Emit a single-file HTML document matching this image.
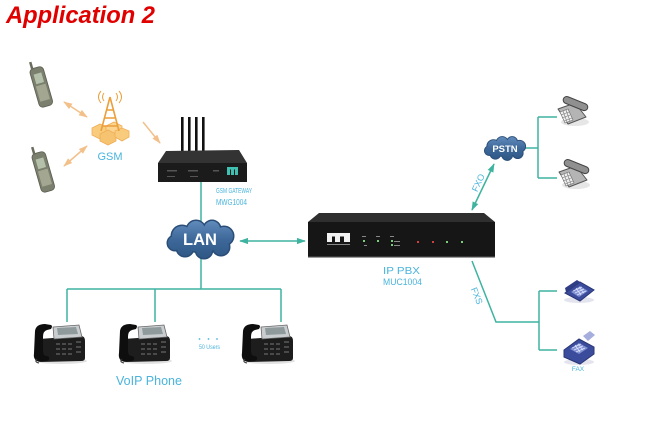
<!DOCTYPE html>
<html><head><meta charset="utf-8"><style>
html,body{margin:0;padding:0;background:#fff;}
svg{display:block}
</style></head><body>
<svg width="669" height="433" viewBox="0 0 669 433" xmlns="http://www.w3.org/2000/svg" font-family="Liberation Sans, sans-serif">
<defs>
<marker id="ta" viewBox="0 0 10 10" refX="9" refY="5" markerWidth="6" markerHeight="6" orient="auto-start-reverse"><path d="M0,1.5 L10,5 L0,8.5 z" fill="#3db3a0"/></marker>
<marker id="oa" viewBox="0 0 10 10" refX="9" refY="5" markerWidth="6" markerHeight="6" orient="auto-start-reverse"><path d="M0,1.5 L10,5 L0,8.5 z" fill="#f3c08a"/></marker>
<linearGradient id="cg" gradientUnits="userSpaceOnUse" x1="0" y1="-18" x2="0" y2="18"><stop offset="0" stop-color="#5f8aba"/><stop offset="0.5" stop-color="#3d6899"/><stop offset="1" stop-color="#2f5886"/></linearGradient>
<g id="cshape">
<ellipse cx="0" cy="0" rx="28" ry="12"/>
<circle cx="-18.5" cy="-3.5" r="10"/>
<circle cx="-4.5" cy="-9.5" r="9"/>
<circle cx="11.5" cy="-10.5" r="8"/>
<circle cx="23.5" cy="-3.5" r="9"/>
<circle cx="20.5" cy="7.5" r="8"/>
<circle cx="3.5" cy="10.5" r="8"/>
<circle cx="-15.5" cy="8.5" r="8"/>
<circle cx="-25.5" cy="3.5" r="7"/>
</g>
<g id="cloud">
<use href="#cshape" fill="#2a4d77" stroke="#2a4d77" stroke-width="3"/>
<use href="#cshape" fill="url(#cg)"/>
</g>
<g id="voip">
<ellipse cx="28" cy="38" rx="26" ry="3" fill="#e2e2e2"/>
<path d="M6,16 L48,13 Q52,13 52,18 L52,35 Q52,38 48,38 L8,39 Q3,39 3,35 Z" fill="#1d1d1d"/>
<path d="M20,4 L46,2 L49,14 L21,16 Z" fill="#c9cdd0" stroke="#666" stroke-width="0.8"/>
<polygon points="24,5 43,4 45,11 25,12" fill="#8f9a9c"/>
<path d="M2,8 Q3,1 12,1 L18,2 Q20,3 18,6 L14,7 Q10,8 10,14 L10,28 Q10,33 14,33 L16,34 Q17,38 12,38 L4,38 Q0,36 1,30 Z" fill="#0e0e0e"/>
<g fill="#4a4a4a">
<rect x="23" y="20" width="4" height="2"/><rect x="29" y="20" width="4" height="2"/><rect x="35" y="20" width="4" height="2"/>
<rect x="23" y="25" width="4" height="2"/><rect x="29" y="25" width="4" height="2"/><rect x="35" y="25" width="4" height="2"/>
<rect x="23" y="30" width="4" height="2"/><rect x="29" y="30" width="4" height="2"/><rect x="35" y="30" width="4" height="2"/>
<rect x="43" y="18" width="5" height="2"/><rect x="43" y="23" width="5" height="2"/><rect x="43" y="28" width="5" height="2"/>
</g>
<path d="M4,36 q-3,3 2,4" stroke="#333" fill="none" stroke-width="1"/>
</g>
<g id="dphone">
<ellipse cx="4" cy="10" rx="14" ry="4" fill="#e6e6e6"/>
<path d="M-13,-3 L4,-9 L15,5 L-3,12 Z" fill="#b4b4b4" stroke="#555" stroke-width="1" stroke-linejoin="round"/>
<path d="M-11,0 L-3,-3 L2,8 L-6,11 Z" fill="#eeeeee" stroke="#666" stroke-width="0.6"/>
<path d="M-10,3 L-2,0 M-9,6 L-1,3 M-7,9 L1,6 M-8,-1 L-4,10 M-5,-2 L-1,9" stroke="#777" stroke-width="0.6"/>
<rect x="-12" y="-13" width="26" height="7" rx="3.5" transform="rotate(22)" fill="#909090" stroke="#444" stroke-width="1"/>
</g>
</defs>

<!-- Title -->
<text x="6" y="23" font-size="24" font-weight="bold" font-style="italic" fill="#e00000" textLength="149" lengthAdjust="spacingAndGlyphs">Application 2</text>

<!-- mobile phones -->
<g transform="translate(41,86) rotate(-16)">
<rect x="-7" y="-19" width="14" height="40" rx="4" fill="#7b7f6d" stroke="#5a5d50" stroke-width="0.8"/>
<rect x="-4" y="-13" width="8" height="10" fill="#b4c0aa"/>
<rect x="-5" y="-1" width="10" height="16" fill="#a3a690"/>
<rect x="-5" y="-26" width="2.5" height="8" fill="#6a6d5e"/>
</g>
<g transform="translate(43,171) rotate(-16)">
<rect x="-7" y="-19" width="14" height="40" rx="4" fill="#7b7f6d" stroke="#5a5d50" stroke-width="0.8"/>
<rect x="-4" y="-13" width="8" height="10" fill="#b4c0aa"/>
<rect x="-5" y="-1" width="10" height="16" fill="#a3a690"/>
<rect x="-5" y="-26" width="2.5" height="8" fill="#6a6d5e"/>
</g>

<!-- orange arrows -->
<g stroke="#f3c08a" stroke-width="1.5" fill="none">
<path d="M64,102 L87,117" marker-start="url(#oa)" marker-end="url(#oa)"/>
<path d="M64,166 L87,146" marker-start="url(#oa)" marker-end="url(#oa)"/>
<path d="M143,122 L160,143" marker-end="url(#oa)"/>
</g>

<!-- tower -->
<g>
<polygon points="92,128 100,124 108,128 108,135 100,139 92,135" fill="#f8cc7c" stroke="#efad55" stroke-width="0.8"/>
<polygon points="106,126 114,122 122,126 122,133 114,137 106,133" fill="#fad490" stroke="#efad55" stroke-width="0.8"/>
<polygon points="100,134 108,130 116,134 116,141 108,145 100,141" fill="#f6c470" stroke="#efad55" stroke-width="0.8"/>
<polygon points="115,131 122,128 129,131 129,137 122,141 115,137" fill="#f8cc7c" stroke="#efad55" stroke-width="0.8"/>
<path d="M110,97 L101,131 M110,97 L119,131 M104,118 L116,118 M106,110 L114,110 M102,126 L118,126" stroke="#eb9f3a" stroke-width="1.6" fill="none"/>
<path d="M104,93 q-3,4 0,8 M101,91 q-5,6 0,12 M116,93 q3,4 0,8 M119,91 q5,6 0,12" stroke="#eb9f3a" stroke-width="1" fill="none"/>
</g>
<text x="110" y="160" font-size="11" fill="#4ab4dc" text-anchor="middle">GSM</text>

<!-- GSM gateway -->
<g fill="#111">
<rect x="181" y="117" width="2.6" height="37"/>
<rect x="188" y="117" width="2.6" height="37"/>
<rect x="195" y="117" width="2.6" height="37"/>
<rect x="202" y="117" width="2.6" height="37"/>
</g>
<polygon points="166,151 239,150 247,163 158,163" fill="#333"/>
<rect x="158" y="163" width="89" height="19" fill="#1b1b1b"/>
<g fill="#555"><rect x="167" y="170" width="10" height="1.5"/><rect x="188" y="170" width="10" height="1.5"/><rect x="213" y="170" width="6" height="1.5"/><rect x="167" y="176" width="8" height="1"/><rect x="190" y="176" width="8" height="1"/></g>
<g fill="#3fc0b0"><rect x="227" y="167" width="11" height="2.5"/><rect x="227" y="167" width="3" height="8"/><rect x="231" y="167" width="3" height="8"/><rect x="235" y="167" width="3" height="8"/></g>
<text x="216" y="193" font-size="7" fill="#4ab4dc" textLength="36" lengthAdjust="spacingAndGlyphs">GSM GATEWAY</text>
<text x="216" y="205" font-size="8" fill="#4ab4dc" textLength="31" lengthAdjust="spacingAndGlyphs">MWG1004</text>

<!-- teal lines -->
<g stroke="#3db3a0" stroke-width="1.5" fill="none">
<path d="M201,182 V222"/>
<path d="M201,257 V289"/>
<path d="M67,289 H281"/>
<path d="M67,289 V322 M155,289 V322 M281,289 V322"/>
<path d="M240,241 H305" marker-start="url(#ta)" marker-end="url(#ta)"/>
<path d="M472,210 L494,164" marker-start="url(#ta)" marker-end="url(#ta)"/>
<path d="M525,148 H538 M538,117 V178 M538,117 H557 M538,178 H557"/>
<path d="M472,261 L496,322 H539 M539,291 V350 M539,291 H557 M539,350 H557"/>
</g>

<!-- LAN cloud -->
<use href="#cloud" transform="translate(200.5,239.5)"/>
<text x="200" y="245" font-size="16.5" font-weight="bold" fill="#fff" text-anchor="middle">LAN</text>

<!-- PSTN cloud -->
<use href="#cloud" transform="translate(505,148.5) scale(0.62)"/>
<text x="505" y="152" font-size="9.5" font-weight="bold" fill="#fff" text-anchor="middle">PSTN</text>

<!-- IP PBX -->
<polygon points="319,213 484,213 495,222 308,222" fill="#2f2f2f"/>
<rect x="308" y="222" width="187" height="35" fill="#161616"/>
<rect x="308" y="256" width="187" height="1.5" fill="#3a3a3a"/>
<g fill="#f2f2f2"><rect x="327" y="233" width="23" height="3.5"/><rect x="327" y="233" width="5" height="9"/><rect x="335" y="233" width="5" height="9"/><rect x="344" y="233" width="6" height="9"/></g>
<rect x="327" y="244" width="23" height="1" fill="#888"/>
<g fill="#888"><rect x="362" y="236" width="4" height="1"/><rect x="376" y="236" width="4" height="1"/><rect x="390" y="236" width="4" height="1"/><rect x="364" y="245" width="3" height="1"/><rect x="394" y="241" width="6" height="1"/><rect x="394" y="245" width="6" height="1"/></g>
<g fill="#7ad07a"><rect x="363" y="240" width="2" height="2"/><rect x="377" y="240" width="2" height="2"/><rect x="391" y="240" width="2" height="2"/><rect x="391" y="244" width="2" height="2"/><rect x="446" y="241" width="2" height="2"/><rect x="461" y="241" width="2" height="2"/></g>
<g fill="#d04040"><rect x="417" y="241" width="2" height="2"/><rect x="432" y="241" width="2" height="2"/></g>
<text x="383" y="274" font-size="10.5" fill="#4ab4dc" textLength="37" lengthAdjust="spacingAndGlyphs">IP  PBX</text>
<text x="383" y="285" font-size="9" fill="#4ab4dc" textLength="39" lengthAdjust="spacingAndGlyphs">MUC1004</text>

<!-- FXO / FXS labels -->
<text x="0" y="0" font-size="9" fill="#4ab4dc" text-anchor="middle" transform="translate(481,184) rotate(-65)">FXO</text>
<text x="0" y="0" font-size="9" fill="#4ab4dc" text-anchor="middle" transform="translate(474,297) rotate(68)">FXS</text>

<!-- desk phones -->
<use href="#dphone" transform="translate(571,112)"/>
<use href="#dphone" transform="translate(572,175)"/>

<!-- blue phone -->
<g>
<ellipse cx="579" cy="300" rx="15" ry="3" fill="#e4e4ee"/>
<path d="M565,293 L580,282 L594,290 L580,301 Z" fill="#3c4c9c" stroke="#2a3674" stroke-width="1"/>
<path d="M571,292 L580,286 L588,291 L579,297 Z" fill="#8090d0"/>
<path d="M573,291 L582,287 M575,293 L584,289 M577,295 L586,291 M576,288 L581,295 M579,287 L584,293" stroke="#dfe4ff" stroke-width="0.7"/>
<path d="M565,288 L577,280 L580,282 L566,292 Z" fill="#2f3d86"/>
</g>
<!-- fax -->
<g>
<ellipse cx="579" cy="362" rx="15" ry="3" fill="#e4e4ee"/>
<path d="M583,336 L590,331 L595,335 L588,341 Z" fill="#a6aede"/>
<path d="M564,350 L579,339 L594,347 L594,354 L580,364 L564,357 Z" fill="#3c4c9c" stroke="#2a3674" stroke-width="1"/>
<path d="M570,349 L579,343 L588,348 L579,354 Z" fill="#8090d0"/>
<path d="M572,348 L581,344 M574,350 L583,346 M576,352 L585,348 M575,345 L580,352 M578,344 L583,350" stroke="#dfe4ff" stroke-width="0.7"/>
</g>
<text x="578" y="371" font-size="6.5" fill="#4ab4dc" text-anchor="middle">FAX</text>

<!-- VoIP phones -->
<use href="#voip" transform="translate(33,323)"/>
<use href="#voip" transform="translate(118,323)"/>
<use href="#voip" transform="translate(241,323)"/>
<g fill="#4ab4dc"><circle cx="199.5" cy="339" r="0.9"/><circle cx="208.5" cy="339" r="0.9"/><circle cx="217" cy="339" r="0.9"/></g>
<text x="199" y="349" font-size="6" fill="#4ab4dc" textLength="21" lengthAdjust="spacingAndGlyphs">50 Users</text>
<text x="116" y="385" font-size="12.5" fill="#4ab4dc" textLength="66" lengthAdjust="spacingAndGlyphs">VoIP  Phone</text>
</svg>
</body></html>
